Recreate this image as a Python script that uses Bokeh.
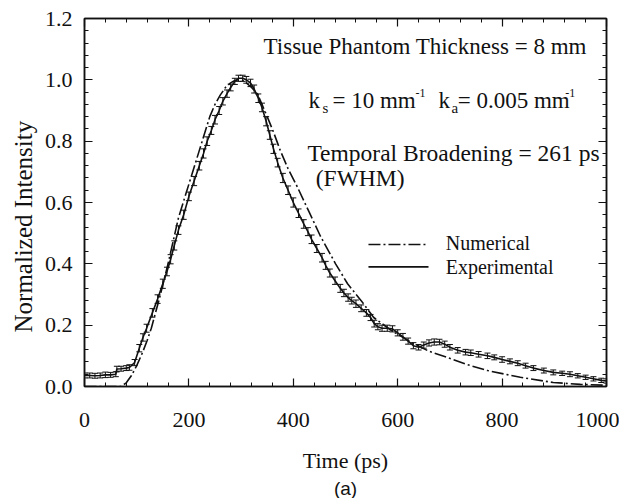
from bokeh.plotting import figure
from bokeh.models import (LinearAxis, Range1d, FixedTicker, CustomJSTickFormatter,
                          Label, Whisker, ColumnDataSource, TeeHead, Title)
from bokeh.embed import file_html
from bokeh.resources import INLINE

# ---------------- data ----------------
exp_t = [0, 10, 20, 30, 40, 50, 60, 62, 70, 80,
         86, 96, 105, 112, 119, 130, 140, 150, 158, 165,
         172, 180, 190, 200, 210, 220, 228, 235, 243, 250,
         258, 265, 273, 280, 288, 295, 303, 310, 318, 325,
         333, 340, 348, 355, 362, 370, 380, 390, 400, 410,
         420, 428, 435, 445, 455, 462, 470, 480, 490, 497,
         505, 512, 520, 530, 540, 548, 555, 562, 570, 580,
         590, 600, 610, 620, 630, 640, 650, 660, 670, 680,
         690, 700, 715, 730, 740, 755, 772, 785, 800, 815,
         830, 845, 860, 880, 898, 915, 930, 945, 960, 975,
         990, 1000]
exp_v = [0.036, 0.036, 0.035, 0.036, 0.038, 0.038, 0.040, 0.057, 0.058, 0.060,
         0.062, 0.078, 0.125, 0.160, 0.190, 0.240, 0.285, 0.335, 0.375, 0.415,
         0.460, 0.510, 0.560, 0.620, 0.670, 0.720, 0.760, 0.800, 0.835, 0.870,
         0.900, 0.930, 0.955, 0.975, 0.995, 1.005, 1.005, 1.000, 0.990, 0.970,
         0.940, 0.910, 0.865, 0.820, 0.775, 0.730, 0.680, 0.640, 0.600, 0.565,
         0.530, 0.505, 0.480, 0.450, 0.420, 0.395, 0.370, 0.345, 0.320, 0.305,
         0.290, 0.280, 0.270, 0.255, 0.240, 0.225, 0.205, 0.195, 0.190, 0.190,
         0.188, 0.175, 0.162, 0.148, 0.133, 0.128, 0.135, 0.142, 0.145, 0.145,
         0.138, 0.128, 0.118, 0.112, 0.110, 0.105, 0.100, 0.095, 0.088, 0.082,
         0.076, 0.068, 0.060, 0.052, 0.046, 0.043, 0.040, 0.035, 0.030, 0.025,
         0.020, 0.018]
exp_err = [0.008, 0.008, 0.008, 0.008, 0.009, 0.008, 0.008, 0.009, 0.008, 0.008,
           0.009, 0.010, 0.012, 0.012, 0.013, 0.014, 0.014, 0.015, 0.014, 0.015,
           0.015, 0.014, 0.015, 0.014, 0.015, 0.014, 0.015, 0.014, 0.013, 0.014,
           0.013, 0.012, 0.012, 0.011, 0.010, 0.010, 0.010, 0.011, 0.012, 0.013,
           0.014, 0.014, 0.015, 0.014, 0.015, 0.014, 0.015, 0.014, 0.015, 0.014,
           0.014, 0.013, 0.014, 0.013, 0.014, 0.013, 0.013, 0.012, 0.013, 0.012,
           0.012, 0.011, 0.012, 0.011, 0.011, 0.010, 0.011, 0.010, 0.010, 0.010,
           0.010, 0.010, 0.011, 0.010, 0.010, 0.009, 0.010, 0.010, 0.010, 0.009,
           0.010, 0.009, 0.009, 0.009, 0.009, 0.009, 0.009, 0.008, 0.009, 0.008,
           0.008, 0.008, 0.008, 0.008, 0.008, 0.007, 0.008, 0.007, 0.007, 0.007,
           0.007, 0.007]

num_t = [0, 70, 80, 90, 100, 111, 120, 128, 136, 144, 152, 160, 170, 180, 190,
         200, 210, 220, 230, 240, 250, 260, 270, 280, 288, 295, 303, 310, 320,
         331, 340, 350, 362, 375, 390, 408, 430, 452, 481, 504, 530, 554, 590,
         630, 660, 695, 730, 772, 835, 898, 950, 1000]
num_v = [0.0, 0.0, 0.012, 0.036, 0.068, 0.110, 0.150, 0.190, 0.240, 0.290, 0.345,
         0.400, 0.475, 0.550, 0.605, 0.660, 0.715, 0.770, 0.825, 0.880, 0.920,
         0.950, 0.975, 0.990, 0.998, 1.000, 0.998, 0.990, 0.975, 0.955, 0.920,
         0.880, 0.830, 0.770, 0.710, 0.650, 0.570, 0.490, 0.400, 0.335, 0.280,
         0.225, 0.180, 0.140, 0.115, 0.095, 0.073, 0.052, 0.030, 0.013, 0.007,
         0.004]

x_ticks = [0, 200, 400, 600, 800, 1000]
x_minor = [40, 80, 120, 160, 240, 280, 320, 360, 440, 480, 520, 560,
           640, 680, 720, 760, 840, 880, 920, 960]
y_ticks = [0.0, 0.2, 0.4, 0.6, 0.8, 1.0, 1.2]
y_tick_labels = ["0.0", "0.2", "0.4", "0.6", "0.8", "1.0", "1.2"]
y_minor = [0.04, 0.08, 0.12, 0.16, 0.24, 0.28, 0.32, 0.36, 0.44, 0.48, 0.52, 0.56,
           0.64, 0.68, 0.72, 0.76, 0.84, 0.88, 0.92, 0.96, 1.04, 1.08, 1.12, 1.16]

SERIF = "Liberation Serif"
BLACK = "#111111"

p = figure(frame_width=522, frame_height=368,
           x_range=Range1d(0, 1000), y_range=Range1d(0, 1.2),
           output_backend="svg", toolbar_location=None,
           min_border_left=84, min_border_right=13, min_border_top=18,
           min_border_bottom=100)
p.xgrid.visible = False
p.ygrid.visible = False
p.outline_line_color = BLACK
p.outline_line_width = 1.5
p.background_fill_color = "white"
p.border_fill_color = "white"

xt = FixedTicker(ticks=x_ticks, minor_ticks=x_minor)
yt = FixedTicker(ticks=y_ticks, minor_ticks=y_minor)

def style(ax):
    ax.axis_line_color = BLACK
    ax.axis_line_width = 1.5
    ax.major_tick_in = 8
    ax.major_tick_out = 0
    ax.minor_tick_in = 4
    ax.minor_tick_out = 0
    ax.major_tick_line_color = BLACK
    ax.minor_tick_line_color = BLACK
    ax.major_tick_line_width = 1.2
    ax.minor_tick_line_width = 1.0
    ax.major_label_text_font = SERIF
    ax.major_label_text_color = BLACK
    ax.axis_label_text_font = SERIF
    ax.axis_label_text_font_style = "normal"
    ax.axis_label_text_color = BLACK

xa = p.xaxis[0]
xa.ticker = xt
style(xa)
xa.major_label_text_font_size = "22px"
xa.major_label_standoff = 26
xa.axis_label = "Time (ps)"
xa.axis_label_text_font_size = "22px"
xa.axis_label_standoff = 18

ya = p.yaxis[0]
ya.ticker = yt
style(ya)
ya.major_label_overrides = {t: l for t, l in zip(y_ticks, y_tick_labels)}
ya.major_label_text_font_size = "22px"
ya.major_label_standoff = 12

blank = CustomJSTickFormatter(code="return ''")
top = LinearAxis(ticker=xt, formatter=blank)
style(top)
top.major_label_standoff = 0
p.add_layout(top, "above")
right = LinearAxis(ticker=yt, formatter=blank)
style(right)
right.major_label_standoff = 0
p.add_layout(right, "right")

# y label as a side title so it can sit a little below the axis centre
p.add_layout(Title(text="Normalized Intensity", align="left", offset=54,
                   text_font=SERIF, text_font_size="25px", text_font_style="normal",
                   text_color=BLACK, standoff=10), "left")
# caption
p.add_layout(Title(text="(a)", align="center", text_font="Liberation Sans",
                   text_font_size="19px", text_font_style="normal",
                   text_color=BLACK, standoff=0), "below")

# curves
p.line(num_t, num_v, line_color=BLACK, line_width=1.6, line_dash="12 3 2 3")
p.line(exp_t, exp_v, line_color=BLACK, line_width=1.6)
src = ColumnDataSource(dict(t=exp_t,
                            lo=[v - e for v, e in zip(exp_v, exp_err)],
                            hi=[v + e for v, e in zip(exp_v, exp_err)]))
p.add_layout(Whisker(source=src, base="t", lower="lo", upper="hi",
                     line_color=BLACK, line_width=1,
                     upper_head=TeeHead(size=6, line_color=BLACK, line_width=1),
                     lower_head=TeeHead(size=6, line_color=BLACK, line_width=1)))

# legend (drawn by hand like the original)
p.line([544, 659], [0.463, 0.463], line_color=BLACK, line_width=1.6, line_dash="12 3 2 3")
p.line([544, 659], [0.390, 0.390], line_color=BLACK, line_width=1.6)

def txt(x, y, s, size, baseline="alphabetic", align="left", font=SERIF):
    p.add_layout(Label(x=x, y=y, text=s, text_font=font, text_font_size=size,
                       text_color=BLACK, text_baseline=baseline, text_align=align))

txt(692, 0.467, "Numerical", "20px", baseline="middle")
txt(692, 0.390, "Experimental", "20px", baseline="middle")

# annotations
txt(343, 1.110, "Tissue Phantom Thickness = 8 mm", "23px")
txt(429, 0.934, "k", "23px")
txt(456, 0.908, "s", "15px")
txt(475, 0.934, "= 10 mm", "23px")
txt(634, 0.957, "-1", "12px")
txt(678, 0.934, "k", "23px")
txt(703, 0.908, "a", "15px")
txt(715, 0.934, "= 0.005 mm", "23px")
txt(921, 0.957, "-1", "12px")
txt(427, 0.761, "Temporal Broadening = 261 ps", "23.5px")
txt(443, 0.680, "(FWHM)", "23.5px")

open("out.html", "w").write(file_html(p, INLINE))
